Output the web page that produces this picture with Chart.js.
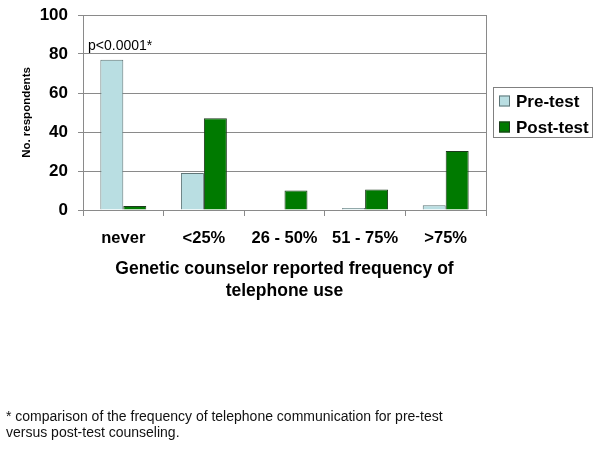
<!DOCTYPE html>
<html>

<head>
    <title>Telephone use</title>
    <script src="https://cdn.jsdelivr.net/npm/chart.js"></script>
    <style>
        body { margin: 0; background: #fff; }
        #wrap { position: relative; width: 600px; height: 451px; }
        #note {
            position: absolute; left: 6px; top: 408px; width: 594px;
            font: 14px "Liberation Sans", Arial, sans-serif; line-height: 16px; color: #111;
        }
    </style>
</head>

<body>
    <div id="wrap">
        <canvas id="phoneChart" width="600" height="451"></canvas>
        <div id="note">* comparison of the frequency of telephone communication for pre-test<br>versus post-test counseling.</div>
    </div>
    <script>
        const categories = ['never', '<25%', '26 - 50%', '51 - 75%', '>75%'];
        const preTest = [77, 19, 0, 1, 2.5];
        const postTest = [2, 47, 10, 10.5, 30.3];
        const yTicks = [0, 20, 40, 60, 80, 100];
        const xTitle = ['Genetic counselor reported frequency of', 'telephone use'];
        const yTitle = 'No. respondents';
        const pNote = 'p<0.0001*';

        const FONT = '"Liberation Sans", Arial, sans-serif';
        const GRID = '#8a8a8a';

        // titles, p-value note, legend box and right frame line
        const extras = {
            id: 'extras',
            afterDraw(chart) {
                const ctx = chart.ctx;
                const a = chart.chartArea;
                ctx.save();

                // right edge of plot
                ctx.strokeStyle = GRID;
                ctx.lineWidth = 1;
                ctx.beginPath();
                ctx.moveTo(Math.round(a.right) + 0.5, a.top);
                ctx.lineTo(Math.round(a.right) + 0.5, a.bottom);
                ctx.stroke();

                ctx.fillStyle = '#000';
                ctx.textAlign = 'center';
                ctx.textBaseline = 'middle';

                // x title
                ctx.font = 'bold 17.5px ' + FONT;
                const cx = (a.left + a.right) / 2;
                xTitle.forEach((t, i) => ctx.fillText(t, cx, a.bottom + 59 + i * 22));

                // y title
                ctx.save();
                ctx.translate(27, (a.top + a.bottom) / 2);
                ctx.rotate(-Math.PI / 2);
                ctx.font = 'bold 11.5px ' + FONT;
                ctx.fillText(yTitle, 0, 0);
                ctx.restore();

                // p-value
                ctx.textAlign = 'left';
                ctx.font = '14px ' + FONT;
                ctx.fillText(pNote, a.left + 5, chart.scales.y.getPixelForValue(84));

                // legend
                const lx = 493, ly = 87, lw = 99, lh = 50;
                ctx.strokeStyle = '#808080';
                ctx.strokeRect(lx + 0.5, ly + 0.5, lw, lh);
                ctx.font = 'bold 17px ' + FONT;
                chart.data.datasets.forEach((ds, i) => {
                    const yy = ly + 14 + i * 26;
                    ctx.fillStyle = ds.backgroundColor;
                    ctx.fillRect(lx + 6, yy - 5.5, 11, 11);
                    ctx.strokeStyle = ds.borderColor;
                    ctx.strokeRect(lx + 6.5, yy - 5, 10, 10);
                    ctx.fillStyle = '#000';
                    ctx.fillText(ds.label, lx + 23, yy + 1);
                });
                ctx.restore();
            }
        };

        const ctx = document.getElementById('phoneChart').getContext('2d');
        const chart = new Chart(ctx, {
            type: 'bar',
            data: {
                labels: categories,
                datasets: [{
                    label: 'Pre-test',
                    data: preTest,
                    backgroundColor: '#b9dee2',
                    borderColor: '#5f7577',
                    borderWidth: 1
                }, {
                    label: 'Post-test',
                    data: postTest,
                    backgroundColor: '#007a00',
                    borderColor: '#1d3a1d',
                    borderWidth: 1
                }]
            },
            options: {
                responsive: false,
                animation: false,
                devicePixelRatio: 1,
                layout: { padding: { left: 0, top: 15, right: 114, bottom: 201 } },
                datasets: { bar: { categoryPercentage: 0.57, barPercentage: 1.0 } },
                plugins: { legend: { display: false }, tooltip: { enabled: false } },
                scales: {
                    x: {
                        afterFit: s => { s.height = 40; },
                        grid: { drawOnChartArea: false, color: GRID, tickLength: 6 },
                        border: { color: GRID },
                        ticks: { color: '#000', font: { family: FONT, size: 16.5, weight: 'bold' }, padding: 13 }
                    },
                    y: {
                        min: 0,
                        max: 100,
                        afterFit: s => { s.width = 83; s.paddingTop = 0; s.paddingBottom = 0; },
                        afterBuildTicks: s => { s.ticks = yTicks.map(v => ({ value: v })); },
                        grid: { color: GRID, tickLength: 5 },
                        border: { color: GRID },
                        ticks: { color: '#000', font: { family: FONT, size: 17, weight: 'bold' }, padding: 10 }
                    }
                }
            },
            plugins: [extras]
        });
    </script>
</body>

</html>
